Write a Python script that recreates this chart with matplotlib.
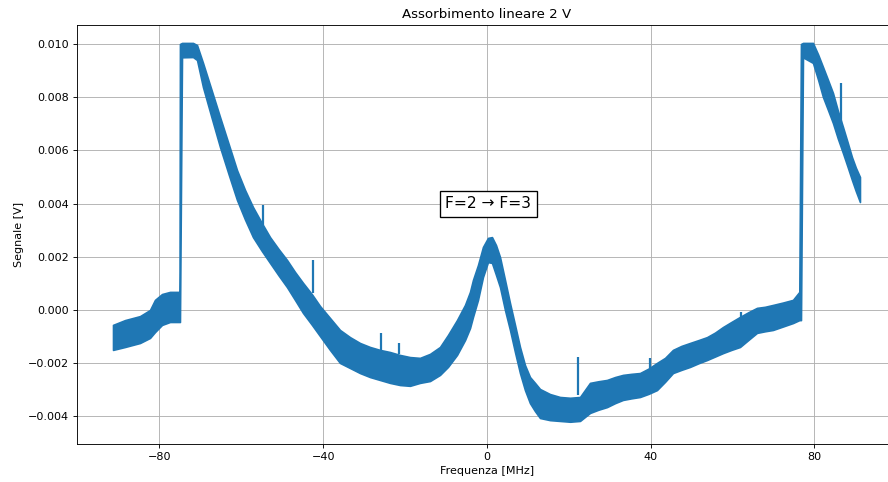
import matplotlib
matplotlib.use("Agg")
from matplotlib import pyplot as plt

# envelope of the noisy trace (MHz, V)
freq = [-91.35, -88.42, -84.76, -82.32, -81.10, -79.38, -77.43, -75.10,
        -75.00, -74.50, -71.81, -70.83, -69.37, -67.30, -65.22, -63.10,
        -61.07, -59.10, -57.16, -55.00, -53.00, -50.90, -48.85, -46.90,
        -44.94, -42.80, -40.79, -38.35, -35.91, -33.46, -31.02, -28.58,
        -26.14, -23.69, -21.25, -18.81, -16.37, -13.92, -11.48, -9.53,
        -7.33, -5.37, -4.15, -3.42, -2.20, -0.98, 0.24, 1.22,
        2.20, 3.18, 4.40, 5.62, 6.84, 8.06, 9.28, 10.50,
        11.72, 12.95, 15.39, 17.83, 20.30, 22.72, 25.16, 27.20,
        29.31, 31.30, 33.22, 35.30, 37.37, 39.50, 41.52, 43.50,
        45.43, 47.50, 49.58, 51.70, 53.74, 55.70, 57.65, 59.70,
        61.80, 63.90, 65.95, 67.90, 69.86, 72.30, 74.74, 76.30,
        76.70, 77.19, 79.63, 80.90, 82.07, 83.30, 84.51, 85.70,
        86.96, 88.10, 89.15, 90.10, 91.11]
upper = [-0.00056, -0.00038, -0.00023, 0.00000, 0.00038, 0.00060, 0.00068, 0.00068,
         0.01000, 0.01004, 0.01004, 0.00996, 0.00929, 0.00828, 0.00726, 0.00624,
         0.00526, 0.00451, 0.00387, 0.00327, 0.00274, 0.00229, 0.00188, 0.00143,
         0.00102, 0.00060, 0.00015, -0.00030, -0.00075, -0.00102, -0.00124, -0.00139,
         -0.00150, -0.00158, -0.00169, -0.00177, -0.00180, -0.00165, -0.00139, -0.00094,
         -0.00038, 0.00019, 0.00068, 0.00113, 0.00169, 0.00237, 0.00271, 0.00274,
         0.00244, 0.00199, 0.00113, 0.00026, -0.00056, -0.00139, -0.00207, -0.00252,
         -0.00274, -0.00297, -0.00316, -0.00327, -0.00330, -0.00327, -0.00274, -0.00268,
         -0.00263, -0.00252, -0.00244, -0.00240, -0.00237, -0.00220, -0.00199, -0.00180,
         -0.00150, -0.00135, -0.00124, -0.00113, -0.00102, -0.00085, -0.00064, -0.00045,
         -0.00026, -0.00008, 0.00008, 0.00012, 0.00019, 0.00028, 0.00038, 0.00068,
         0.01000, 0.01004, 0.01004, 0.00960, 0.00914, 0.00865, 0.00816, 0.00750,
         0.00688, 0.00630, 0.00575, 0.00535, 0.00500]
lower = [-0.00150, -0.00139, -0.00124, -0.00105, -0.00083, -0.00056, -0.00045, -0.00045,
         -0.00045, 0.00950, 0.00951, 0.00940, 0.00838, 0.00725, 0.00613, 0.00510,
         0.00414, 0.00340, 0.00274, 0.00222, 0.00177, 0.00130, 0.00086, 0.00038,
         -0.00011, -0.00055, -0.00098, -0.00150, -0.00199, -0.00218, -0.00237, -0.00252,
         -0.00263, -0.00274, -0.00282, -0.00285, -0.00274, -0.00267, -0.00244, -0.00214,
         -0.00169, -0.00113, -0.00068, -0.00026, 0.00038, 0.00124, 0.00180, 0.00177,
         0.00132, 0.00086, 0.00000, -0.00075, -0.00158, -0.00237, -0.00301, -0.00350,
         -0.00380, -0.00406, -0.00414, -0.00417, -0.00420, -0.00417, -0.00387, -0.00375,
         -0.00365, -0.00350, -0.00338, -0.00332, -0.00327, -0.00315, -0.00301, -0.00270,
         -0.00237, -0.00225, -0.00214, -0.00200, -0.00188, -0.00175, -0.00162, -0.00150,
         -0.00139, -0.00112, -0.00086, -0.00080, -0.00075, -0.00062, -0.00049, -0.00038,
         -0.00038, 0.00950, 0.00929, 0.00865, 0.00801, 0.00752, 0.00703, 0.00645,
         0.00590, 0.00538, 0.00489, 0.00447, 0.00406]

# isolated spikes above the band
spike_freq = [-54.71, -42.50, -25.89, -21.50, 22.23, 39.81, 62.04, 86.47]
spike_base = [0.00320, 0.00064, -0.00150, -0.00165, -0.00320, -0.00220, -0.00030, 0.00700]
spike_top = [0.00395, 0.00188, -0.00086, -0.00124, -0.00177, -0.00180, -0.00008, 0.00853]

blue = '#1f77b4'

fig = plt.figure(figsize=(11.1, 6.025), dpi=80)
ax = fig.add_axes([0.0867, 0.0788, 0.9234, 0.8693])
ax.fill_between(freq, lower, upper, color=blue, edgecolor=blue, linewidth=1.5, zorder=2)
ax.vlines(spike_freq, spike_base, spike_top, color=blue, linewidth=2, zorder=2)
ax.grid(True, zorder=0)
ax.set_axisbelow(True)
ax.set_xlim(-100.15, 100.15)
ax.set_ylim(-0.005038, 0.010714)
ax.set_xticks([-80, -40, 0, 40, 80])
ax.set_title('Assorbimento lineare 2 V')
ax.set_xlabel('Frequenza [MHz]')
ax.set_ylabel('Segnale [V]')
ax.text(0.3, 0.004, 'F=2 \u2192 F=3', fontsize=14, ha='center', va='center',
        bbox=dict(boxstyle='square,pad=0.35', facecolor='white', edgecolor='black', linewidth=1.2))
fig.savefig('out.png', dpi=80)
